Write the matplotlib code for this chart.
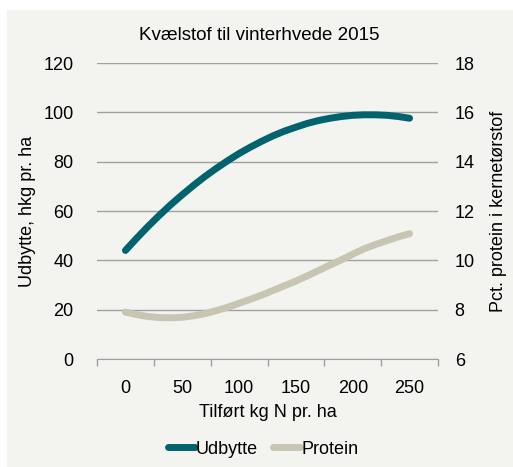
import matplotlib
matplotlib.use("Agg")
import matplotlib.pyplot as plt
from matplotlib.patches import Rectangle
from matplotlib.lines import Line2D

plt.rcParams['font.family'] = ['Liberation Sans', 'DejaVu Sans']

# Tilført kg N pr. ha
kg_n = [0, 10, 20, 30, 40, 50, 60, 70, 80, 90, 100, 110, 120,
        130, 140, 150, 160, 170, 180, 190, 200, 210, 220, 230, 240, 250]
# Udbytte, hkg pr. ha
udbytte = [44.0, 49.0, 53.8, 58.3, 62.6, 66.6, 70.4, 74.0, 77.3, 80.4, 83.3, 85.9, 88.3,
           90.5, 92.4, 94.0, 95.5, 96.7, 97.6, 98.3, 98.8, 99.0, 99.0, 98.8, 98.3, 97.6]
# Pct. protein i kernetørstof
protein = [7.90, 7.80, 7.72, 7.68, 7.67, 7.69, 7.75, 7.84, 7.96, 8.10, 8.26, 8.42, 8.59,
           8.78, 8.97, 9.16, 9.37, 9.59, 9.81, 10.02, 10.25, 10.47, 10.64, 10.80, 10.95, 11.08]

teal = "#00636E"
beige = "#C8C6B2"
bg = "#F3F3EF"
fs = 13

fig = plt.figure(figsize=(5.13, 4.67), dpi=100)
W, H = 513, 467
# grå baggrund
fig.patches.append(Rectangle((7 / W, 0), 1 - 7 / W, 1 - 10 / H,
                             transform=fig.transFigure, color=bg, zorder=-10))

ax = fig.add_axes([97 / W, 1 - 359 / H, (438 - 97) / W, (359 - 63) / H])
ax.set_facecolor(bg)
ax2 = ax.twinx()

ax.set_xlim(-25, 275)
ax.set_ylim(0, 120)
ax2.set_ylim(6, 18)
ax.set_yticks(range(0, 121, 20))
ax2.set_yticks(range(6, 19, 2))

# kategoriakse: streger mellem etiketterne
ax.set_xticks(range(-25, 276, 50))
ax.set_xticklabels([])
ax.set_xticks(range(0, 251, 50), minor=True)
ax.set_xticklabels([str(v) for v in range(0, 251, 50)], minor=True)
ax.tick_params(axis="x", which="major", length=5, color="#A0A0A0", width=1)
ax.tick_params(axis="x", which="minor", length=0, pad=15, labelsize=fs)
ax.tick_params(axis="y", length=0, pad=17, labelsize=fs)
ax2.tick_params(axis="y", length=0, pad=12, labelsize=fs)

ax.grid(axis="y", color="#A0A0A0", linewidth=1)
for a in (ax, ax2):
    for s in a.spines.values():
        s.set_visible(False)
ax.spines["bottom"].set_visible(True)
ax.spines["bottom"].set_color("#A0A0A0")

ax.plot(kg_n, udbytte, color=teal, linewidth=5, solid_capstyle="round", zorder=3)
ax2.plot(kg_n, protein, color=beige, linewidth=5, solid_capstyle="round", zorder=3)

ax.set_ylabel("Udbytte, hkg pr. ha", fontsize=fs)
ax.yaxis.set_label_coords(-0.179, 0.5)
ax2.set_ylabel("Pct. protein i kernetørstof", fontsize=fs)
ax2.yaxis.set_label_coords(1.152, 0.5)
ax.set_xlabel("Tilført kg N pr. ha", fontsize=fs, labelpad=5)
fig.text(0.5 + 3 / W, 1 - 35 / H, "Kvælstof til vinterhvede 2015", ha="center", va="center", fontsize=13.5)

handles = [Line2D([], [], color=teal, linewidth=5, solid_capstyle="round"),
           Line2D([], [], color=beige, linewidth=5, solid_capstyle="round")]
fig.legend(handles, ["Udbytte", "Protein"], loc="center", bbox_to_anchor=(263 / W, 1 - 449 / H),
           ncol=2, frameon=False, fontsize=fs, handlelength=1.5, handletextpad=0.05,
           columnspacing=0.85)

fig.savefig("out.png", dpi=100)
